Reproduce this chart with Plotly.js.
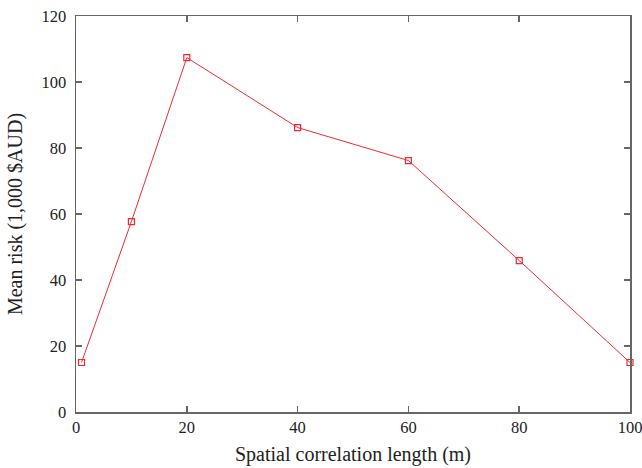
<!DOCTYPE html>
<html><head><meta charset="utf-8">
<script src="https://cdn.plot.ly/plotly-3.0.1.min.js"></script>
<style>body{margin:0;padding:0;}#chart{width:642px;height:468px;}</style>
</head><body><div id="chart"></div>
<script>
const corrLength = [1, 10, 20, 40, 60, 80, 100];
const meanRisk = [15, 57.7, 107.4, 86.2, 76.2, 45.9, 15];
const xTicks = [0, 20, 40, 60, 80, 100];
const yTicks = [0, 20, 40, 60, 80, 100, 120];

const serif = '"Liberation Serif", "Times New Roman", serif';
const axisCommon = {
  showgrid: false, zeroline: false, showline: true, linecolor: '#666', linewidth: 1.5,
  mirror: 'allticks', ticks: 'inside', ticklen: 6, tickcolor: '#666', tickwidth: 1.5,
  ticklabeloverflow: 'allow',
  tickfont: {family: serif, size: 16.5, color: '#222'}
};
const trace = {
  x: corrLength, y: meanRisk, type: 'scatter', mode: 'lines+markers', cliponaxis: false,
  line: {color: '#ee2a35', width: 1},
  marker: {symbol: 'square-open', size: 6, color: '#ee2a35', line: {width: 1.2, color: '#ee2a35'}}
};
const layout = {
  width: 642, height: 468,
  margin: {l: 76, r: 12, t: 16, b: 56},
  paper_bgcolor: 'white', plot_bgcolor: 'white',
  showlegend: false,
  xaxis: Object.assign({}, axisCommon, {
    range: [0, 100], tickvals: xTicks,
    title: {text: 'Spatial correlation length (m)', font: {family: serif, size: 20, color: '#222'}, standoff: 10}
  }),
  yaxis: Object.assign({}, axisCommon, {
    range: [0, 120], tickvals: yTicks, ticklabelstandoff: 5,
    title: {text: 'Mean risk (1,000 $AUD)', font: {family: serif, size: 20, color: '#222'}, standoff: 13}
  })
};
Plotly.newPlot('chart', [trace], layout, {displayModeBar: false, staticPlot: true});
</script></body></html>
